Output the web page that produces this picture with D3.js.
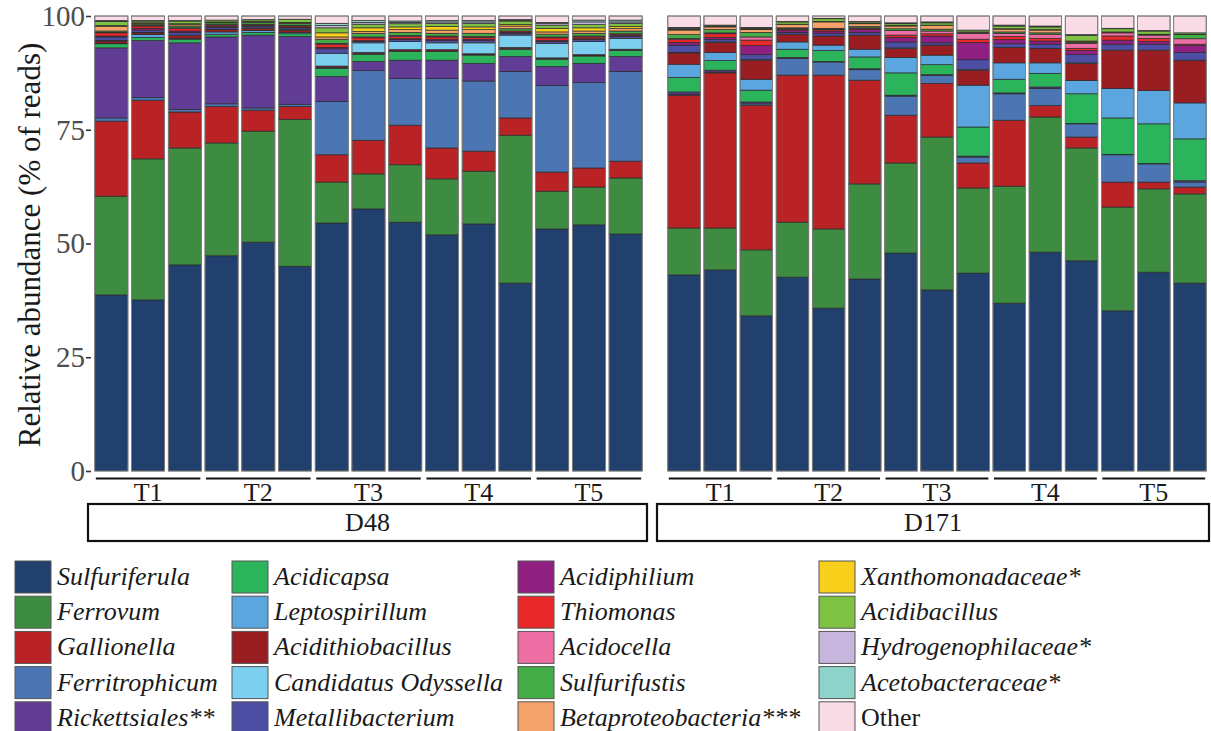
<!DOCTYPE html>
<html><head><meta charset="utf-8">
<script src="https://cdn.jsdelivr.net/npm/d3@7"></script>
<style>
body{margin:0;background:#fff}
svg{display:block}
text{font-family:"Liberation Serif","Times New Roman",serif}
</style>
</head><body>
<svg id="chart" width="1211" height="731"></svg>
<script>
// ---------- data ----------
const days = ["D48", "D171"];
const treatments = ["T1", "T2", "T3", "T4", "T5"];
const replicates = [1, 2, 3];
const yTicks = [0, 25, 50, 75, 100];
const taxa = ["Sulfuriferula","Ferrovum","Gallionella","Ferritrophicum","Rickettsiales**",
  "Acidicapsa","Leptospirillum","Acidithiobacillus","Candidatus Odyssella","Metallibacterium",
  "Acidiphilium","Thiomonas","Acidocella","Sulfurifustis","Betaproteobacteria***",
  "Xanthomonadaceae*","Acidibacillus","Hydrogenophilaceae*","Acetobacteraceae*","Other"];
const taxonColors = ["#21406d","#3e8c42","#b92326","#4b76b3","#613c94",
  "#2cb45c","#5ba6df","#981e22","#7ccfee","#4d4ea3",
  "#8f1f80","#e9282a","#ec6ea3","#44ad48","#f5a36b",
  "#f8d01c","#7ec143","#c6b5dc","#8dd3ca","#f9dce6"];

// values per taxon: 15 samples of D48 (T1..T5 x 3) then 15 samples of D171
const sulfuriferula = [38.7,37.6,45.3,47.3,50.3,45.0,54.5,57.6,54.7,51.9,54.3,41.3,53.2,54.1,52.1, 43.1,44.2,34.1,42.6,35.8,42.2,47.9,39.8,43.5,36.9,48.1,46.2,35.2,43.7,41.3];
const ferrovum = [21.7,31.0,25.7,24.8,24.4,32.3,9.0,7.7,12.6,12.3,11.6,32.5,8.3,8.3,12.3, 10.3,9.2,14.5,12.1,17.4,20.9,19.8,33.6,18.7,25.7,29.7,24.8,22.8,18.3,19.6];
const gallionella = [16.5,12.9,7.9,8.0,4.6,2.8,6.0,7.4,8.7,6.8,4.4,3.8,4.2,4.2,3.7, 29.2,34.1,31.8,32.3,33.8,22.8,10.5,11.8,5.5,14.5,2.5,2.4,5.5,1.5,1.5];
const ferritrophicum = [0.7,0.6,0.6,0.6,0.5,0.5,11.7,15.3,10.3,15.3,15.4,10.2,19.0,18.8,19.7, 0.2,0.2,0.3,3.7,2.9,2.3,4.2,1.7,1.3,5.8,3.8,2.9,6.0,4.0,1.1];
const rickettsiales = [15.4,12.5,14.6,14.7,16.0,14.9,5.5,2.0,4.0,4.0,3.9,3.3,4.2,4.2,3.3, 0.5,0.4,0.4,0.2,0.1,0.2,0.2,0.2,0.2,0.2,0.3,0.1,0.1,0.1,0.3];
const acidicapsa = [0.9,0.7,0.8,0.6,0.6,0.6,1.8,1.6,1.9,1.9,1.8,1.6,1.6,1.6,1.3, 3.2,2.1,2.6,1.8,2.4,2.6,4.9,2.2,6.4,3.0,3.0,6.5,8.0,8.7,9.2];
const leptospirillum = [0.1,0.6,0.2,0.5,0.4,0.3,0.2,0.1,0.1,0.1,0.1,0.1,0.1,0.1,0.1, 2.9,1.8,2.4,1.6,1.2,1.7,3.4,2.1,9.2,3.6,2.3,2.9,6.5,7.3,7.9];
const acidithiobacillus = [0.5,0.4,0.6,0.5,0.5,0.5,0.3,0.3,0.3,0.3,0.2,0.3,0.2,0.2,0.2, 2.5,2.2,4.2,1.7,2.0,3.1,2.0,2.2,3.3,3.4,3.2,3.8,8.4,8.9,9.3];
const odyssella = [0.1,0.1,0.1,0.1,0.1,0.1,2.8,2.1,1.8,1.5,2.4,2.7,3.2,2.9,2.4, 0.1,0.1,0.1,0.0,0.0,0.0,0.1,0.0,0.1,0.0,0.0,0.1,0.0,0.0,0.1];
const metallibacterium = [0.8,0.5,0.6,0.4,0.4,0.4,1.0,0.3,0.4,0.5,0.5,0.4,0.4,0.4,0.4, 1.6,0.5,1.1,0.4,0.6,0.6,1.3,0.5,2.2,0.8,0.9,1.8,1.3,1.3,1.7];
const acidiphilium = [0.2,0.4,0.3,0.2,0.1,0.1,0.3,0.2,0.2,0.3,0.3,0.2,0.2,0.2,0.2, 0.6,0.5,2.0,0.4,0.5,0.6,1.0,1.5,3.8,0.9,0.7,0.9,0.9,0.6,1.5];
const thiomonas = [0.7,0.5,0.6,0.3,0.2,0.3,0.7,0.6,0.5,0.5,0.4,0.3,0.6,0.4,0.3, 0.6,0.8,1.2,0.3,0.3,0.3,0.5,0.5,0.7,0.7,0.6,0.5,0.9,0.7,0.3];
const acidocella = [0.1,0.1,0.1,0.1,0.1,0.1,0.2,0.2,0.2,0.2,0.2,0.0,0.2,0.2,0.1, 0.3,0.2,0.7,0.1,0.1,0.1,1.0,0.6,1.3,0.7,0.9,1.1,0.7,0.7,1.2];
const sulfurifustis = [0.3,0.3,0.4,0.4,0.4,0.4,0.9,0.8,0.7,0.6,0.7,0.5,0.6,0.6,0.6, 0.8,0.7,1.0,0.2,0.2,0.3,0.4,0.4,0.1,0.3,0.3,0.2,0.1,0.1,0.9];
const betaproteobacteria = [1.0,0.2,0.3,0.1,0.2,0.2,0.5,0.4,0.6,0.7,0.8,0.6,0.5,0.5,0.6, 1.0,0.6,0.6,0.7,1.4,0.6,0.6,0.8,0.2,0.6,0.6,0.2,0.1,0.1,0.1];
const xanthomonadaceae = [0.2,0.1,0.2,0.1,0.1,0.1,0.9,0.8,0.6,0.8,0.6,0.3,0.8,0.7,0.4, 0.1,0.1,0.1,0.1,0.1,0.1,0.1,0.1,0.0,0.1,0.1,0.1,0.0,0.0,0.0];
const acidibacillus = [0.9,0.4,0.6,0.4,0.3,0.7,1.1,0.8,0.7,0.7,0.8,0.8,0.7,0.7,0.7, 0.2,0.2,0.2,0.5,0.6,0.3,0.4,0.5,0.4,0.6,0.6,1.2,0.7,0.7,0.3];
const hydrogenophilaceae = [0.1,0.0,0.0,0.0,0.0,0.0,0.5,0.4,0.3,0.3,0.3,0.2,0.4,0.6,0.3, 0.2,0.0,0.1,0.0,0.0,0.0,0.1,0.1,0.0,0.1,0.1,0.1,0.0,0.0,0.0];
const acetobacteraceae = [0.1,0.1,0.1,0.0,0.0,0.0,0.5,0.4,0.3,0.3,0.3,0.1,0.2,0.4,0.4, 0.1,0.1,0.1,0.1,0.1,0.1,0.1,0.1,0.0,0.1,0.1,0.1,0.1,0.1,0.0];
const other = [1.0,1.0,1.0,0.9,0.8,0.7,1.6,1.0,1.1,1.0,1.0,0.8,1.4,0.9,0.9, 2.5,2.0,2.5,1.2,0.5,1.2,1.5,1.3,3.1,2.0,2.2,4.1,2.7,3.2,3.7];

const seriesValues = [sulfuriferula, ferrovum, gallionella, ferritrophicum, rickettsiales,
  acidicapsa, leptospirillum, acidithiobacillus, odyssella, metallibacterium,
  acidiphilium, thiomonas, acidocella, sulfurifustis, betaproteobacteria,
  xanthomonadaceae, acidibacillus, hydrogenophilaceae, acetobacteraceae, other];

// ---------- build table ----------
const samples = [];
days.forEach(d => treatments.forEach(t => replicates.forEach(r => samples.push({id: `${d}-${t}-${r}`, day: d, treatment: t}))));
samples.forEach((s, i) => taxa.forEach((k, j) => { s[k] = seriesValues[j][i]; }));

const color = d3.scaleOrdinal(taxa, taxonColors);
const stacked = d3.stack().keys(taxa)(samples);

// ---------- layout ----------
const svg = d3.select("#chart");
const y = d3.scaleLinear([0, 100], [471, 16]);
const panels = [
  {day: "D48", range: [93, 644], strip: [88, 647]},
  {day: "D171", range: [666, 1208], strip: [657, 1209]}
];
panels.forEach(p => {
  p.x = d3.scaleBand(samples.filter(s => s.day === p.day).map(s => s.id), p.range)
    .paddingInner(0.1).paddingOuter(0.05);
});
const xFor = s => panels.find(p => p.day === s.day).x;

// bars
const layers = svg.append("g").selectAll("g").data(stacked).join("g")
  .attr("fill", d => color(d.key));
layers.selectAll("rect").data(d => d).join("rect")
  .attr("x", d => xFor(d.data)(d.data.id))
  .attr("width", d => xFor(d.data).bandwidth())
  .attr("y", d => y(d[1]))
  .attr("height", d => Math.max(0, y(d[0]) - y(d[1])))
  .attr("stroke", "#2a2a2a").attr("stroke-width", 0.7);

// outer bar outline
panels.forEach(p => {
  svg.append("g").selectAll("rect").data(p.x.domain()).join("rect")
    .attr("x", d => p.x(d)).attr("width", p.x.bandwidth())
    .attr("y", y(100)).attr("height", y(0) - y(100))
    .attr("fill", "none").attr("stroke", "#8a8a8a").attr("stroke-width", 0.8);
});

// y axis
const yAxis = svg.append("g").attr("transform", "translate(91,0)")
  .call(d3.axisLeft(y).tickValues(yTicks).tickSize(5).tickPadding(1));
yAxis.select(".domain").remove();
yAxis.selectAll(".tick line").attr("stroke", "#333").attr("stroke-width", 1.6);
yAxis.selectAll(".tick text").attr("font-size", 29).attr("fill", "#4d4d4d")
  .attr("font-family", '"Liberation Serif", serif');

svg.append("text").attr("transform", "translate(40,245) rotate(-90)")
  .attr("text-anchor", "middle").attr("font-size", 31).attr("fill", "#1a1a1a")
  .text("Relative abundance (% of reads)");

// treatment group lines and labels, strips
panels.forEach(p => {
  const g = svg.append("g");
  treatments.forEach(t => {
    const ids = p.x.domain().filter(id => id.includes(`-${t}-`));
    const x0 = p.x(ids[0]) + 1, x1 = p.x(ids[ids.length - 1]) + p.x.bandwidth() - 1;
    g.append("line").attr("x1", x0).attr("x2", x1).attr("y1", 478.5).attr("y2", 478.5)
      .attr("stroke", "#111").attr("stroke-width", 2.2);
    g.append("text").attr("x", (x0 + x1) / 2).attr("y", 501)
      .attr("text-anchor", "middle").attr("font-size", 26).attr("fill", "#1a1a1a").text(t);
  });
  g.append("rect").attr("x", p.strip[0]).attr("y", 504)
    .attr("width", p.strip[1] - p.strip[0]).attr("height", 37)
    .attr("fill", "#fff").attr("stroke", "#111").attr("stroke-width", 2.2);
  g.append("text").attr("x", (p.strip[0] + p.strip[1]) / 2).attr("y", 531)
    .attr("text-anchor", "middle").attr("font-size", 26).attr("fill", "#1a1a1a").text(p.day);
});

// legend
const colX = [15, 232, 518, 819];
const legend = svg.append("g").selectAll("g").data(taxa).join("g")
  .attr("transform", (d, i) => `translate(${colX[Math.floor(i / 5)]},${561 + (i % 5) * 35.2})`);
legend.append("rect").attr("width", 36).attr("height", 32)
  .attr("fill", d => color(d)).attr("stroke", "#555").attr("stroke-width", 1);
legend.append("text").attr("x", 42).attr("y", 24).attr("font-size", 26)
  .attr("font-style", d => d === "Other" ? "normal" : "italic").attr("fill", "#1a1a1a")
  .text(d => d);
</script>
</body></html>
